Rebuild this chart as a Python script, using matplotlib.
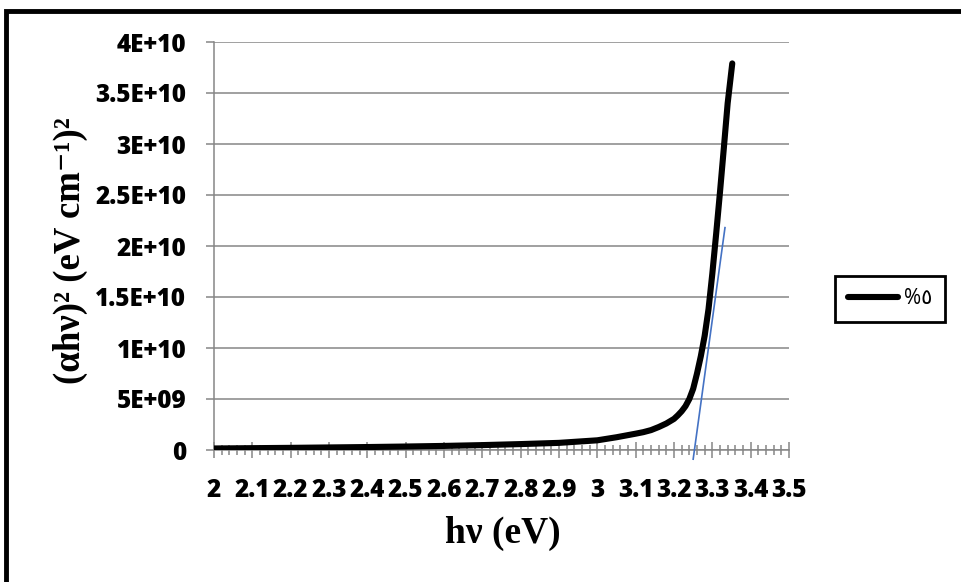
import matplotlib.pyplot as plt
from matplotlib.patches import Rectangle

# photon energy (eV) and (alpha h nu)^2
hv = [2.0, 2.1, 2.2, 2.3, 2.4, 2.5, 2.6, 2.7, 2.8, 2.9, 3.0, 3.05, 3.1, 3.12,
      3.14, 3.16, 3.18, 3.2, 3.21, 3.22, 3.23, 3.24, 3.25, 3.26, 3.27, 3.28,
      3.29, 3.30, 3.31, 3.32, 3.33, 3.34, 3.352]
ahv2 = [0.15e9, 0.18e9, 0.21e9, 0.25e9, 0.29e9, 0.34e9, 0.40e9, 0.48e9, 0.58e9,
        0.70e9, 0.95e9, 1.25e9, 1.6e9, 1.75e9, 1.95e9, 2.25e9, 2.6e9, 3.05e9,
        3.4e9, 3.8e9, 4.3e9, 5.0e9, 6.0e9, 7.5e9, 9.2e9, 11.2e9, 13.8e9,
        17.3e9, 21.2e9, 25.3e9, 29.6e9, 34.0e9, 37.9e9]

# hand drawn tangent line
fit_x = [3.25, 3.333]
fit_y = [-0.9e9, 2.18e10]

x_ticks = [2.0, 2.1, 2.2, 2.3, 2.4, 2.5, 2.6, 2.7, 2.8, 2.9, 3.0, 3.1, 3.2, 3.3, 3.4, 3.5]
x_labels = ['2', '2.1', '2.2', '2.3', '2.4', '2.5', '2.6', '2.7', '2.8', '2.9',
            '3', '3.1', '3.2', '3.3', '3.4', '3.5']
y_ticks = [0, 5e9, 1e10, 1.5e10, 2e10, 2.5e10, 3e10, 3.5e10, 4e10]
y_labels = ['0', '5E+09', '1E+10', '1.5E+10', '2E+10', '2.5E+10', '3E+10', '3.5E+10', '4E+10']
series_name = '%\u0665'

grey = '#868686'
tick_font = dict(family=['Open Sans', 'DejaVu Sans'], weight='heavy', size=17.5)
serif = ['Liberation Serif', 'DejaVu Serif']

fig = plt.figure(figsize=(9.61, 5.82), dpi=100)
ax = fig.add_axes([214 / 961, 1 - 450 / 582, 575 / 961, 408 / 582])

ax.plot(hv, ahv2, color='black', linewidth=4.4, solid_capstyle='round',
        solid_joinstyle='round', label=series_name, zorder=3)
ax.plot(fit_x, fit_y, color='#4472C4', linewidth=1.2, clip_on=False, zorder=4)

ax.set_xlim(2, 3.5)
ax.set_ylim(0, 4e10)
ax.set_xticks(x_ticks)
ax.set_xticklabels(x_labels, fontdict=tick_font)
ax.set_xticks([2 + 0.02 * i for i in range(76)], minor=True)
ax.set_yticks(y_ticks)
ax.set_yticklabels(y_labels, fontdict=tick_font)

ax.grid(axis='y', color=grey, linewidth=1.1)
ax.set_axisbelow(True)
for s in ['top', 'right']:
    ax.spines[s].set_visible(False)
for s in ['left', 'bottom']:
    ax.spines[s].set_color(grey)
    ax.spines[s].set_linewidth(1.1)

ax.tick_params(axis='x', which='major', direction='inout', length=12, width=1.1,
               color=grey, pad=14)
ax.tick_params(axis='x', which='minor', direction='inout', length=7, width=1.1,
               color=grey)
ax.tick_params(axis='y', direction='out', length=6, width=1.1, color=grey, pad=14)

fig.text(70 / 961, 1 - 251 / 582, '(αhν)² (eV cm⁻¹)²', rotation=90,
         ha='center', va='center', family=serif, weight='bold', fontsize=26.5)
fig.text(503 / 961, 1 - 533 / 582, 'hν (eV)', ha='center', va='center',
         family=serif, weight='bold', fontsize=27)

leg = fig.legend(loc='center left', bbox_to_anchor=(835 / 961, 1 - 298.5 / 582),
                 prop=dict(family=['Open Sans', 'DejaVu Sans'], size=15),
                 handlelength=2.4, handletextpad=0.3, borderpad=0.6,
                 borderaxespad=0, fancybox=False, framealpha=1)
leg.get_frame().set_edgecolor('black')
leg.get_frame().set_linewidth(2)

# outer chart border (extends past the right and bottom edges)
fig.patches.append(Rectangle((5.5 / 961, -0.1), 1.2, 1.1 - 10.5 / 582,
                             transform=fig.transFigure, fill=False,
                             edgecolor='black', linewidth=3.5))

fig.savefig('out.png', dpi=100)
